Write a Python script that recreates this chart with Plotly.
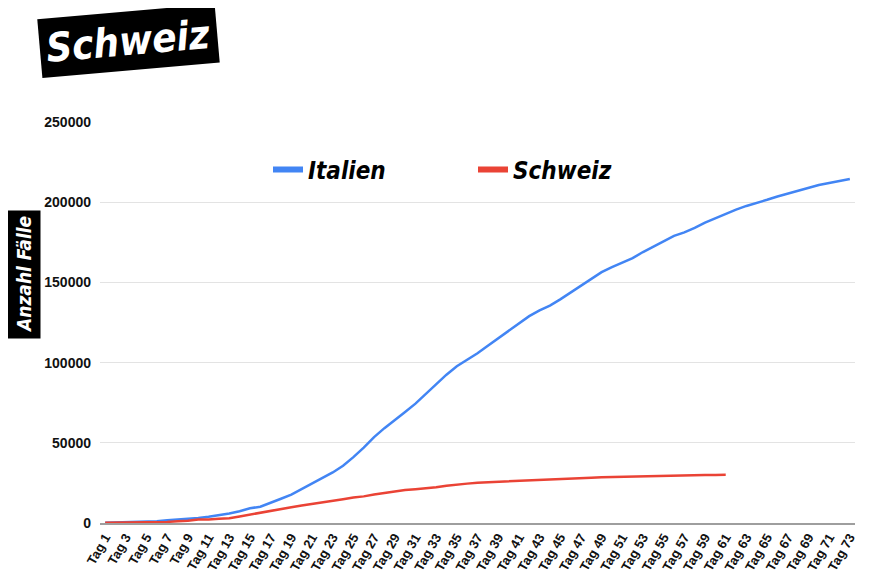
import plotly.graph_objects as go

days = [f"Tag {i}" for i in range(1, 74)]
tick_labels = days[::2]

italien = [229, 322, 453, 655, 888, 1128, 1694, 2036, 2502, 3089, 3858, 4636, 5883, 7375,
           9172, 10149, 12462, 15113, 17660, 21157, 24747, 27980, 31506, 35713, 41035,
           47021, 53578, 59138, 63927, 69176, 74386, 80589, 86498, 92472, 97689, 101739,
           105792, 110574, 115242, 119827, 124632, 128948, 132547, 135586, 139422, 143626,
           147577, 152271, 156363, 159516, 162488, 165155, 168941, 172434, 175925, 178972,
           181228, 183957, 187327, 189973, 192994, 195351, 197675, 199414, 201505, 203591,
           205463, 207428, 209328, 210717, 211938, 213013, 214457]

schweiz = [214, 268, 337, 374, 491, 652, 652, 1139, 1359, 2200, 2200, 2700, 3028, 4075,
           5294, 6575, 7474, 8795, 9877, 10897, 11811, 12928, 14076, 14829, 15922, 16605,
           17768, 18827, 19606, 20505, 21100, 21657, 22253, 23280, 24051, 24551, 25107,
           25415, 25688, 25936, 26336, 26732, 27078, 27404, 27740, 27944, 28063, 28268,
           28496, 28677, 28894, 29061, 29164, 29264, 29407, 29586, 29705, 29817, 29905,
           29981, 30009]

blue = "#4285F4"
red = "#EA4335"
narrow = "Liberation Sans Narrow, DejaVu Sans Condensed, Arial Narrow, sans-serif"

fig = go.Figure()
fig.add_trace(go.Scatter(x=days, y=italien, mode="lines", line=dict(color=blue, width=2.5),
                         showlegend=False, name="Italien"))
fig.add_trace(go.Scatter(x=days[:len(schweiz)], y=schweiz, mode="lines",
                         line=dict(color=red, width=2.5), showlegend=False, name="Schweiz"))
# legend entries
fig.add_trace(go.Scatter(x=[None], y=[None], mode="lines", line=dict(color=blue, width=6),
                         name="Italien"))
fig.add_trace(go.Scatter(x=[None], y=[None], mode="lines", line=dict(color=red, width=6),
                         name="Schweiz"))

W, H = 865, 571
L, R, T, B = 92, 18, 114, 56
pw = W - L - R
ph = H - T - B


def px(xp):
    return (xp - 8 - L) / pw


def py(yp):
    return (H - B - (yp - 8)) / ph


fig.update_layout(
    width=W, height=H,
    margin=dict(l=L, r=R, t=T, b=B),
    paper_bgcolor="white", plot_bgcolor="white",
    font=dict(family="Liberation Sans, Arial, sans-serif", color="#222"),
    legend=dict(orientation="h", x=px(268), xanchor="left", y=py(170), yanchor="middle",
                entrywidth=160, entrywidthmode="pixels", itemwidth=30,
                font=dict(family=narrow, size=24, color="black",
                          weight="bold", style="italic"),
                bgcolor="rgba(0,0,0,0)"),
    xaxis=dict(categoryorder="array", categoryarray=days,
               tickmode="array", tickvals=tick_labels, ticktext=tick_labels,
               tickangle=-60, showgrid=False, showline=True, linecolor="#9e9e9e",
               linewidth=1.5, ticks="", automargin=False,
               tickfont=dict(size=13, color="#111", weight="bold"),
               range=[-0.5, 72.5]),
    yaxis=dict(range=[0, 250000], tickvals=[0, 50000, 100000, 150000, 200000, 250000],
               ticktext=["0", "50000", "100000", "150000", "200000", "250000"],
               showgrid=True, gridcolor="#e3e3e3", zeroline=False, ticks="",
               ticklabelstandoff=8, automargin=False,
               tickfont=dict(size=14, color="#111", weight="bold")),
)

fig.add_annotation(text="Schweiz", xref="paper", yref="paper",
                   x=px(128), y=py(41), xanchor="center", yanchor="middle",
                   showarrow=False,
                   textangle=-5, bgcolor="black", borderpad=6,
                   font=dict(family=narrow, size=40, color="white",
                             weight="bold", style="italic"))

fig.add_annotation(text="Anzahl Fälle", xref="paper", yref="paper",
                   x=px(24), y=py(275), xanchor="center", yanchor="middle",
                   showarrow=False,
                   textangle=-90, bgcolor="black", borderpad=5,
                   font=dict(family=narrow, size=19, color="white",
                             weight="bold", style="italic"))

fig.write_html("out.html")
